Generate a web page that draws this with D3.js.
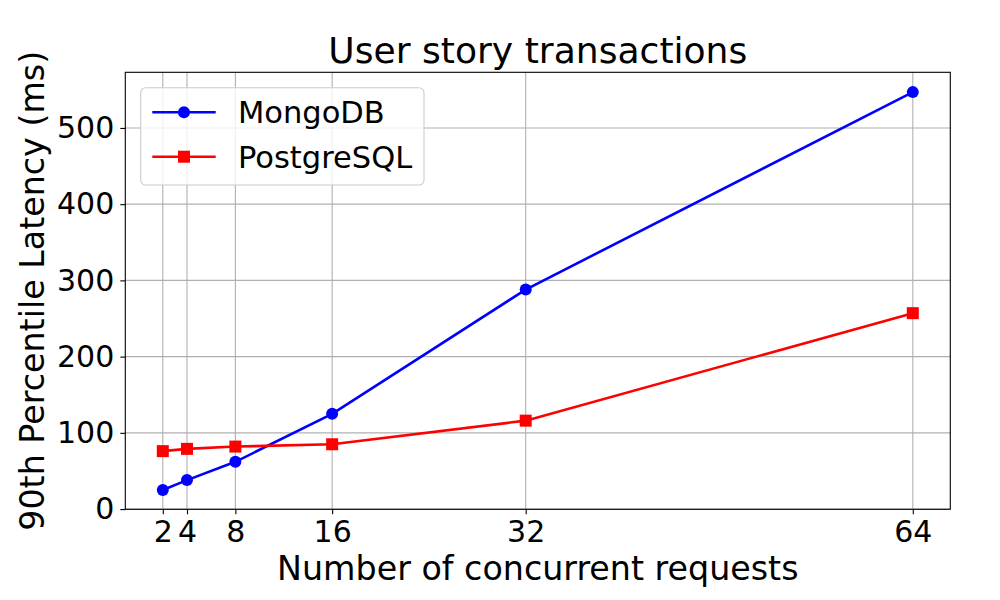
<!DOCTYPE html>
<html><head><meta charset="utf-8">
<script src="https://cdn.jsdelivr.net/npm/d3@7"></script>
<style>body{margin:0;background:#fff;} text{font-family:"DejaVu Sans",sans-serif;fill:#000;}</style>
</head><body><svg id="c" width="1000" height="600"></svg>
<script>
const requests = [2, 4, 8, 16, 32, 64];
const mongoLatency = [25, 38, 62, 125, 288, 547];
const postgresLatency = [76, 79, 82, 85, 116, 257];
const xTicks = [2, 4, 8, 16, 32, 64];
const yTicks = [0, 100, 200, 300, 400, 500];
const seriesNames = ["MongoDB", "PostgreSQL"];
const seriesColors = ["#0000ff", "#ff0000"];

const svg = d3.select("#c");
const L = 125.3, R = 950.3, T = 72.3, B = 509.3;
const x = d3.scaleLinear().domain([-1.1, 67.1]).range([L, R]);
const y = d3.scaleLinear().domain([-0.3, 573]).range([B, T]);

// grid
const g = svg.append("g");
g.selectAll(".vg").data(xTicks).join("line")
  .attr("x1", d => x(d)).attr("x2", d => x(d)).attr("y1", T).attr("y2", B)
  .attr("stroke", "#b0b0b0").attr("stroke-width", 1.1);
g.selectAll(".hg").data(yTicks).join("line")
  .attr("y1", d => y(d)).attr("y2", d => y(d)).attr("x1", L).attr("x2", R)
  .attr("stroke", "#b0b0b0").attr("stroke-width", 1.1);

// axes
const xAxis = d3.axisBottom(x).tickValues(xTicks).tickSize(5).tickPadding(6);
const yAxis = d3.axisLeft(y).tickValues(yTicks).tickSize(5).tickPadding(6);
const gx = svg.append("g").attr("transform", `translate(0,${B})`).call(xAxis);
const gy = svg.append("g").attr("transform", `translate(${L},0)`).call(yAxis);
[gx, gy].forEach(a => {
  a.select(".domain").remove();
  a.selectAll(".tick line").attr("stroke", "#000").attr("stroke-width", 1.1);
  a.selectAll(".tick text").attr("font-size", 30).attr("font-family", "DejaVu Sans").attr("fill", "#000");
});

// frame
svg.append("rect").attr("x", L).attr("y", T).attr("width", R - L).attr("height", B - T)
  .attr("fill", "none").attr("stroke", "#000").attr("stroke-width", 1.1);

// lines
const series = [mongoLatency, postgresLatency];
const line = d3.line().x((d, i) => x(requests[i])).y(d => y(d));
series.forEach((s, k) => {
  svg.append("path").datum(s).attr("d", line).attr("fill", "none")
    .attr("stroke", seriesColors[k]).attr("stroke-width", 2.6);
});
svg.selectAll(".mc").data(mongoLatency).join("circle")
  .attr("cx", (d, i) => x(requests[i])).attr("cy", d => y(d)).attr("r", 6).attr("fill", seriesColors[0]);
svg.selectAll(".ms").data(postgresLatency).join("rect")
  .attr("x", (d, i) => x(requests[i]) - 6).attr("y", d => y(d) - 6).attr("width", 12).attr("height", 12)
  .attr("fill", seriesColors[1]);

// title & labels
svg.append("text").attr("x", (L + R) / 2).attr("y", 62.5).attr("text-anchor", "middle")
  .attr("font-size", 36.1).text("User story transactions");
svg.append("text").attr("x", (L + R) / 2).attr("y", 580).attr("text-anchor", "middle")
  .attr("font-size", 33.3).text("Number of concurrent requests");
svg.append("text").attr("transform", `translate(44,${(T + B) / 2}) rotate(-90)`).attr("text-anchor", "middle")
  .attr("font-size", 33.3).text("90th Percentile Latency (ms)");

// legend
const lg = svg.append("g");
lg.append("rect").attr("x", 140.7).attr("y", 87.7).attr("width", 283.3).attr("height", 97.3)
  .attr("rx", 5).attr("fill", "#fff").attr("fill-opacity", 0.8).attr("stroke", "#cccccc").attr("stroke-width", 1.1);
const rows = [112.3, 156.7];
seriesNames.forEach((n, k) => {
  lg.append("line").attr("x1", 152.3).attr("x2", 215.7).attr("y1", rows[k]).attr("y2", rows[k])
    .attr("stroke", seriesColors[k]).attr("stroke-width", 2.6);
  if (k === 0) lg.append("circle").attr("cx", 184).attr("cy", rows[k]).attr("r", 6).attr("fill", seriesColors[k]);
  else lg.append("rect").attr("x", 178).attr("y", rows[k] - 6).attr("width", 12).attr("height", 12).attr("fill", seriesColors[k]);
  lg.append("text").attr("x", 238).attr("y", rows[k]).attr("dy", "0.36em").attr("font-size", 30.5).text(n);
});
</script></body></html>
